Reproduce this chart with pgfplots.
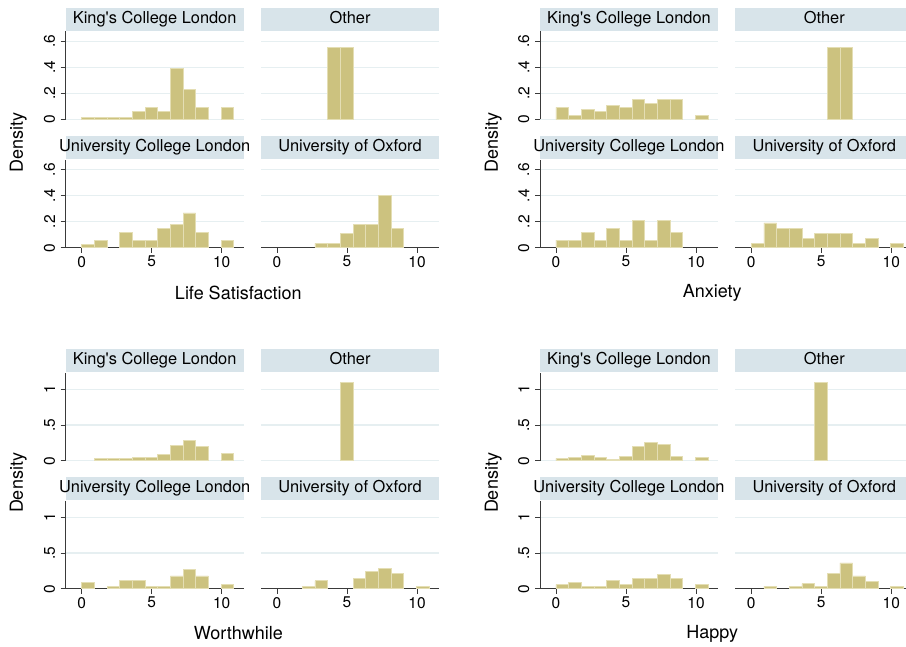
\documentclass[border=0pt]{standalone}
\usepackage{fontspec}
\setmainfont{TeX Gyre Heros}
\usepackage{pgfplots}
\pgfplotsset{compat=1.18}
\definecolor{barc}{HTML}{CCC27F}
\definecolor{barl}{HTML}{E4DEB4}
\definecolor{stripc}{HTML}{D8E4EA}
\definecolor{gridc}{HTML}{E6EFF1}
\definecolor{axc}{HTML}{3A3A3A}
\pgfplotsset{
  every axis title/.style={at={(0.5,1)}, anchor=south, fill=stripc, inner sep=0pt,
    minimum height=23pt, text height=11.5pt, text depth=3.5pt,
    font=\fontsize{16.4}{18}\selectfont},
  panel/.style={scale only axis, width=178pt, height=88pt, anchor=south west,
    xmin=-1.14, xmax=11.57, ymin=0,
    axis lines*=left, axis line style={axc, line width=0.9pt},
    tick align=outside, major tick length=5pt, tick style={axc, line width=0.9pt},
    xtick={0,5,10}, xticklabels={0,5,10},
    ymajorgrids, grid style={gridc, line width=1.3pt},
    tick label style={font=\fontsize{15.5}{17}\selectfont},
    yticklabel style={rotate=90, anchor=south, yshift=2pt},
  },
  topgrp/.style={ymax=0.677, ytick={0,0.2,0.4,0.6}, yticklabels={0,.2,.4,.6}},
  botgrp/.style={ymax=1.234, ytick={0,0.5,1}, yticklabels={0,.5,1}},
  rightcol/.style={y axis line style={draw=none}, ytick style={draw=none}, yticklabels={}},
  toprow/.style={x axis line style={draw=none}, xtick style={draw=none}, xticklabels={}},
  hbar/.style={ybar, bar width=0.905, bar shift=0pt, fill=barc, draw=barl, line width=0.7pt},
}
\newcommand{\KCL}{King\textquotesingle s College London}
\newcommand{\panel}[5]{%
  \begin{axis}[panel, at={(#1pt,#2pt)}, title={\makebox[178pt][c]{#3}}, #4]
    \addplot[hbar] coordinates {#5};
  \end{axis}}
\begin{document}
\begin{tikzpicture}
\path[use as bounding box] (0pt,0pt) rectangle (906pt,647pt);
\clip (0pt,0pt) rectangle (906pt,647pt);
% ===== Life Satisfaction =====
\panel{65.7}{527.7}{\KCL}{topgrp,toprow}{(0.4525,0.015) (1.3575,0.015) (2.2625,0.015) (3.1675,0.015) (4.0725,0.059) (4.9775,0.092) (5.8825,0.059) (6.7875,0.392) (7.6925,0.233) (8.5975,0.092) (10.4075,0.092)}
\panel{261}{527.7}{Other}{topgrp,toprow,rightcol}{(4.0725,0.552) (4.9775,0.552)}
\panel{65.7}{399.3}{University College London}{topgrp}{(0.4525,0.028) (1.3575,0.058) (3.1675,0.118) (4.0725,0.058) (4.9775,0.058) (5.8825,0.148) (6.7875,0.176) (7.6925,0.268) (8.5975,0.118) (10.4075,0.058)}
\panel{261}{399.3}{University of Oxford}{topgrp,rightcol}{(3.1675,0.033) (4.0725,0.033) (4.9775,0.107) (5.8825,0.182) (6.7875,0.182) (7.6925,0.402) (8.5975,0.146)}
% ===== Anxiety =====
\panel{540}{527.7}{\KCL}{topgrp,toprow}{(0.4525,0.092) (1.3575,0.028) (2.2625,0.076) (3.1675,0.058) (4.0725,0.106) (4.9775,0.092) (5.8825,0.154) (6.7875,0.122) (7.6925,0.154) (8.5975,0.154) (10.4075,0.028)}
\panel{735.3}{527.7}{Other}{topgrp,toprow,rightcol}{(5.8825,0.552) (6.7875,0.552)}
\panel{540}{399.3}{University College London}{topgrp}{(0.4525,0.058) (1.3575,0.058) (2.2625,0.118) (3.1675,0.058) (4.0725,0.148) (4.9775,0.058) (5.8825,0.208) (6.7875,0.058) (7.6925,0.208) (8.5975,0.118)}
\panel{735.3}{399.3}{University of Oxford}{topgrp,rightcol}{(0.4525,0.034) (1.3575,0.19) (2.2625,0.148) (3.1675,0.148) (4.0725,0.072) (4.9775,0.108) (5.8825,0.108) (6.7875,0.108) (7.6925,0.034) (8.5975,0.072) (10.4075,0.034)}
% ===== Worthwhile =====
\panel{65.7}{186.3}{\KCL}{botgrp,toprow}{(1.3575,0.031) (2.2625,0.031) (3.1675,0.031) (4.0725,0.046) (4.9775,0.046) (5.8825,0.09) (6.7875,0.214) (7.6925,0.288) (8.5975,0.2) (10.4075,0.107)}
\panel{261}{186.3}{Other}{botgrp,toprow,rightcol}{(4.9775,1.105)}
\panel{65.7}{58.3}{University College London}{botgrp}{(0.4525,0.089) (2.2625,0.03) (3.1675,0.116) (4.0725,0.116) (4.9775,0.03) (5.8825,0.03) (6.7875,0.179) (7.6925,0.268) (8.5975,0.179) (10.4075,0.06)}
\panel{261}{58.3}{University of Oxford}{botgrp,rightcol}{(2.2625,0.037) (3.1675,0.11) (5.8825,0.147) (6.7875,0.245) (7.6925,0.29) (8.5975,0.215) (10.4075,0.033)}
% ===== Happy =====
\panel{540}{186.3}{\KCL}{botgrp,toprow}{(0.4525,0.031) (1.3575,0.046) (2.2625,0.075) (3.1675,0.046) (4.0725,0.015) (4.9775,0.061) (5.8825,0.2) (6.7875,0.26) (7.6925,0.232) (8.5975,0.061) (10.4075,0.046)}
\panel{735.3}{186.3}{Other}{botgrp,toprow,rightcol}{(4.9775,1.105)}
\panel{540}{58.3}{University College London}{botgrp}{(0.4525,0.058) (1.3575,0.086) (2.2625,0.03) (3.1675,0.03) (4.0725,0.116) (4.9775,0.058) (5.8825,0.146) (6.7875,0.146) (7.6925,0.205) (8.5975,0.146) (10.4075,0.058)}
\panel{735.3}{58.3}{University of Oxford}{botgrp,rightcol}{(1.3575,0.033) (3.1675,0.033) (4.0725,0.072) (4.9775,0.033) (5.8825,0.214) (6.7875,0.362) (7.6925,0.178) (8.5975,0.105) (10.4075,0.033)}
% ===== axis titles =====
\begin{scope}[every node/.style={font=\fontsize{18}{20}\selectfont}]
\node at (238.3pt,354pt) {Life Satisfaction};
\node at (712.2pt,354pt) {Anxiety};
\node at (238.3pt,13.7pt) {Worthwhile};
\node at (712.2pt,12.7pt) {Happy};
\node[rotate=90] at (18.3pt,504.5pt) {Density};
\node[rotate=90] at (493.3pt,504.5pt) {Density};
\node[rotate=90] at (18.3pt,164pt) {Density};
\node[rotate=90] at (493.3pt,164pt) {Density};
\end{scope}
\end{tikzpicture}
\end{document}
